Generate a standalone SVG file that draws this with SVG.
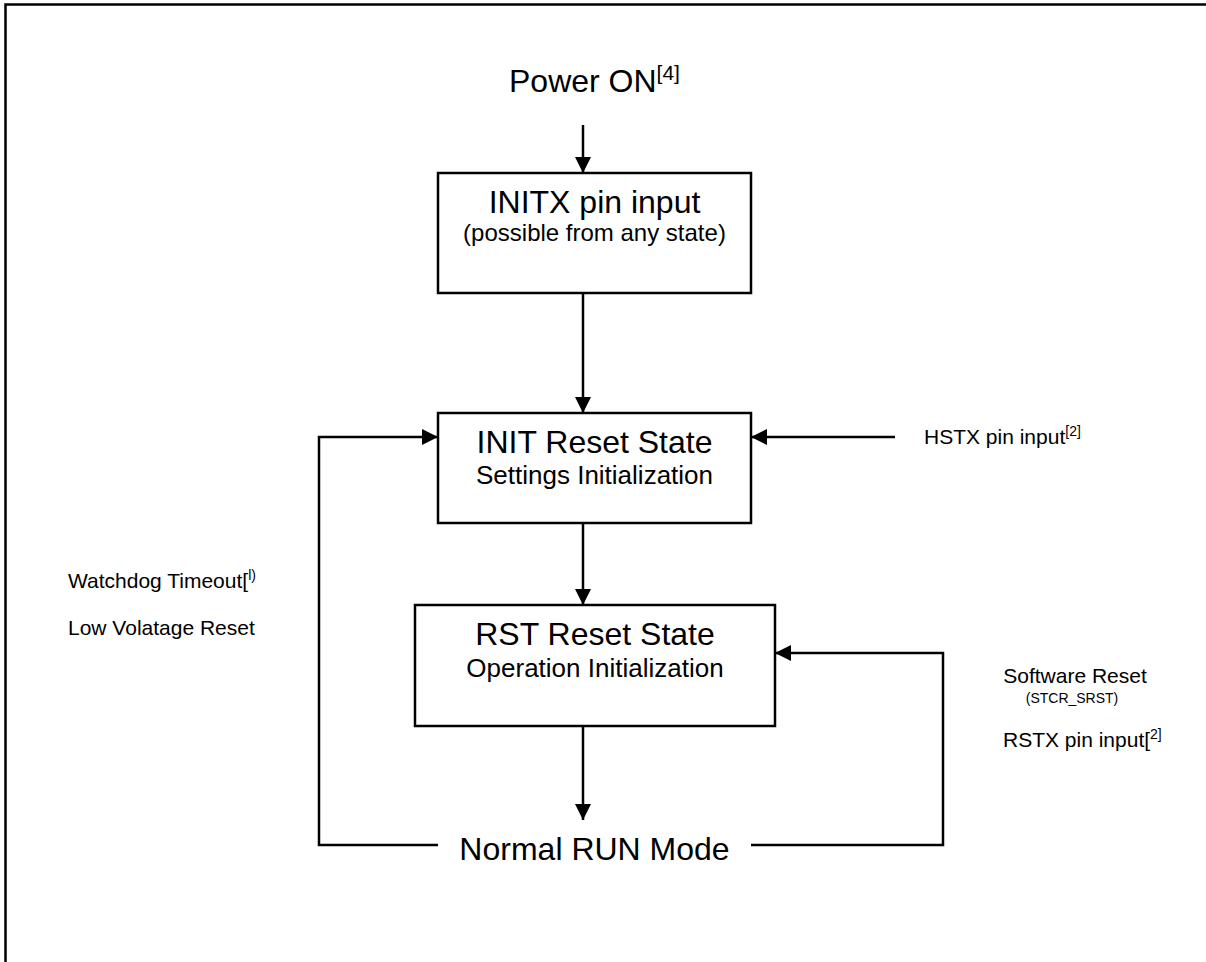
<svg xmlns="http://www.w3.org/2000/svg" width="1206" height="962" viewBox="0 0 1206 962">
<style>
text{font-family:"Liberation Sans",Arial,sans-serif;fill:#000}
.box{fill:#fff;stroke:#000;stroke-width:2.5}
.ln{fill:none;stroke:#000;stroke-width:2.5}
.big{font-size:32px}
.mid{font-size:26px}
.small{font-size:24px}
.lbl{font-size:21px}
.tiny{font-size:14px}
</style>
<defs>
<marker id="ah" viewBox="0 0 16 16" refX="16" refY="8" markerWidth="16" markerHeight="16" markerUnits="userSpaceOnUse" orient="auto">
<path d="M0,0 L16,8 L0,16 z" fill="#000"/>
</marker>
</defs>
<rect x="0" y="0" width="1206" height="962" fill="#fff"/>
<path d="M5.5,962 V4.5 H1206" fill="none" stroke="#000" stroke-width="2.5"/>

<g id="power-on">
<text x="509" y="92" class="big" font-size="31">Power ON<tspan dy="-12" font-size="21">[4]</tspan></text>
</g>
<g id="initx">
<rect class="box" x="438" y="173" width="313" height="120"/>
<text x="594.5" y="213" text-anchor="middle" class="big">INITX pin input</text>
<text x="594.5" y="241" text-anchor="middle" class="small">(possible from any state)</text>
</g>
<g id="init-reset">
<rect class="box" x="438" y="413" width="313" height="110"/>
<text x="594.5" y="453" text-anchor="middle" class="big">INIT Reset State</text>
<text x="594.5" y="484" text-anchor="middle" class="mid">Settings Initialization</text>
</g>
<g id="rst-reset">
<rect class="box" x="415" y="605" width="360" height="121"/>
<text x="595" y="645" text-anchor="middle" class="big">RST Reset State</text>
<text x="595" y="677" text-anchor="middle" class="mid">Operation Initialization</text>
</g>
<g id="normal-run">
<text x="594.5" y="860" text-anchor="middle" class="big">Normal RUN Mode</text>
</g>
<g id="hstx">
<text x="924" y="444" class="lbl">HSTX pin input<tspan dy="-8" font-size="14">[2]</tspan></text>
</g>
<g id="watchdog">
<text x="68" y="588" class="lbl">Watchdog Timeout[<tspan dy="-8" font-size="14">l)</tspan></text>
<text x="68" y="635" class="lbl">Low Volatage Reset</text>
</g>
<g id="software">
<text x="1075" y="683" text-anchor="middle" class="lbl">Software Reset</text>
<text x="1072" y="703" text-anchor="middle" class="tiny">(STCR_SRST)</text>
<text x="1003" y="747" class="lbl">RSTX pin input[<tspan dy="-8" font-size="14">2]</tspan></text>
</g>

<g id="connectors">
<line class="ln" x1="583" y1="125" x2="583" y2="173" marker-end="url(#ah)"/>
<line class="ln" x1="583" y1="293" x2="583" y2="413" marker-end="url(#ah)"/>
<line class="ln" x1="583" y1="523" x2="583" y2="605" marker-end="url(#ah)"/>
<line class="ln" x1="583" y1="726" x2="583" y2="820" marker-end="url(#ah)"/>
<line class="ln" x1="895" y1="437" x2="751" y2="437" marker-end="url(#ah)"/>
<polyline class="ln" points="438,845 319,845 319,437 438,437" marker-end="url(#ah)"/>
<polyline class="ln" points="751,845 943,845 943,653 775,653" marker-end="url(#ah)"/>
</g>
</svg>
